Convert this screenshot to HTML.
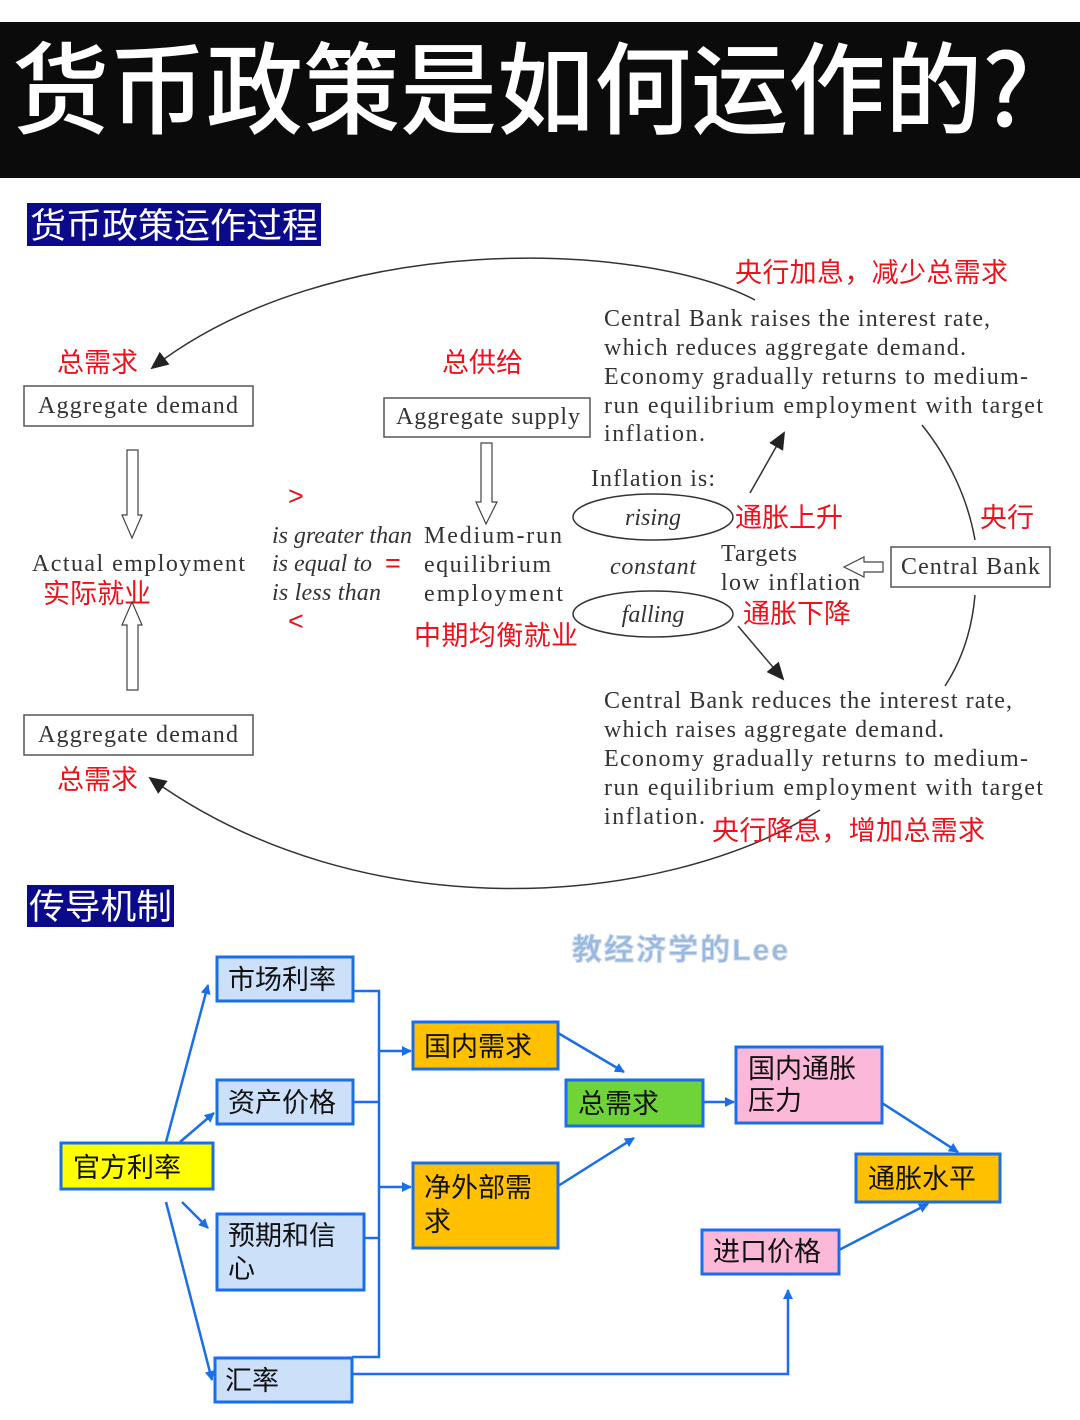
<!DOCTYPE html>
<html><head><meta charset="utf-8"><style>
html,body{margin:0;padding:0;background:#fff;}
svg{display:block;}
.s{font-family:"Liberation Serif","Noto Serif CJK SC",serif;fill:#333;font-size:24px;}
.i{font-style:italic;}
.r{font-family:"Liberation Sans","Noto Sans CJK SC",sans-serif;fill:#e8141c;font-size:27px;}
.c{font-family:"Liberation Sans","Noto Sans CJK SC",sans-serif;fill:#111;font-size:27px;}
.bx{stroke:#1a6fe6;stroke-width:3;}
.ln{stroke:#1a6fe6;stroke-width:2.5;fill:none;}
</style></head><body>
<svg width="1080" height="1420" viewBox="0 0 1080 1420" xmlns="http://www.w3.org/2000/svg">
<defs>
<marker id="ab" markerWidth="10" markerHeight="10" refX="9" refY="5" orient="auto" markerUnits="userSpaceOnUse"><path d="M0,0 L10,5 L0,10 Z" fill="#1a6fe6"/></marker>
<marker id="ak" markerWidth="18" markerHeight="16" refX="16" refY="8" orient="auto" markerUnits="userSpaceOnUse"><path d="M0,0 L18,8 L0,16 Z" fill="#222"/></marker>
</defs>
<rect x="0" y="22" width="1080" height="156" fill="#0b0b0b"/>
<text x="12" y="126" font-family="'Noto Sans CJK SC',sans-serif" font-size="100" font-weight="500" fill="#fff" textLength="1018" lengthAdjust="spacingAndGlyphs">货币政策是如何运作的?</text>

<rect x="27" y="203" width="294" height="43" fill="#0a0a8a"/>
<text x="30" y="238" font-family="'Noto Sans CJK SC',sans-serif" font-size="35" fill="#fff" textLength="288" lengthAdjust="spacingAndGlyphs">货币政策运作过程</text>

<!-- arcs -->
<path d="M755,300 C640,240 330,230 152,368" fill="none" stroke="#333" stroke-width="1.5" marker-end="url(#ak)"/>
<path d="M820,810 C660,910 360,930 150,778" fill="none" stroke="#333" stroke-width="1.5" marker-end="url(#ak)"/>
<path d="M922,425 C950,460 968,500 975,540" fill="none" stroke="#333" stroke-width="1.5"/>
<path d="M975,595 C972,630 962,660 945,686" fill="none" stroke="#333" stroke-width="1.5"/>
<line x1="750" y1="493" x2="784" y2="433" stroke="#333" stroke-width="1.5" marker-end="url(#ak)"/>
<line x1="738" y1="626" x2="783" y2="679" stroke="#333" stroke-width="1.5" marker-end="url(#ak)"/>

<text class="r" x="735" y="282" textLength="273">央行加息，减少总需求</text>
<text class="r" x="57" y="372" textLength="81">总需求</text>
<text class="r" x="442" y="372" textLength="81">总供给</text>
<text class="r" x="980" y="527" textLength="54">央行</text>
<text class="r" x="735" y="527" textLength="108">通胀上升</text>
<text class="r" x="743" y="623" textLength="108">通胀下降</text>
<text class="r" x="43" y="603" textLength="108">实际就业</text>
<text class="r" x="414" y="645" textLength="164">中期均衡就业</text>
<text class="r" x="57" y="789" textLength="81">总需求</text>
<text class="r" x="712" y="840" textLength="273">央行降息，增加总需求</text>
<text class="r" x="288" y="505">&gt;</text>
<text class="r" x="385" y="572">=</text>
<text class="r" x="288" y="630">&lt;</text>

<rect x="24" y="386" width="229" height="40" fill="none" stroke="#555" stroke-width="1.5"/>
<text class="s" x="38" y="413" textLength="200">Aggregate demand</text>
<rect x="24" y="715" width="229" height="40" fill="none" stroke="#555" stroke-width="1.5"/>
<text class="s" x="38" y="742" textLength="200">Aggregate demand</text>
<rect x="384" y="398" width="206" height="39" fill="none" stroke="#555" stroke-width="1.5"/>
<text class="s" x="396" y="424" textLength="184">Aggregate supply</text>
<rect x="891" y="547" width="159" height="40" fill="none" stroke="#555" stroke-width="1.5"/>
<text class="s" x="901" y="574" textLength="139">Central Bank</text>

<!-- hollow arrows -->
<path d="M127,450 H138 V515 H142 L132,538 L122,515 H127 Z" fill="#fff" stroke="#444" stroke-width="1.2"/>
<path d="M127,690 H138 V625 H142 L132,602 L122,625 H127 Z" fill="#fff" stroke="#444" stroke-width="1.2"/>
<path d="M481,443 H492 V502 H497 L486,524 L476,502 H481 Z" fill="#fff" stroke="#444" stroke-width="1.2"/>
<path d="M883,562 V572 H864 V577 L844,567 L864,557 V562 Z" fill="#fff" stroke="#444" stroke-width="1.2"/>

<text class="s" x="32" y="571" textLength="213">Actual employment</text>
<text class="s i" x="272" y="543" textLength="140">is greater than</text>
<text class="s i" x="272" y="571" textLength="100">is equal to</text>
<text class="s i" x="272" y="600" textLength="109">is less than</text>
<text class="s" x="424" y="543" textLength="138">Medium-run</text>
<text class="s" x="424" y="572" textLength="127">equilibrium</text>
<text class="s" x="424" y="601" textLength="139">employment</text>
<text class="s" x="591" y="486" textLength="124">Inflation is:</text>
<ellipse cx="653" cy="517" rx="80" ry="23" fill="none" stroke="#333" stroke-width="1.5"/>
<text class="s i" x="653" y="525" text-anchor="middle">rising</text>
<text class="s i" x="653" y="574" text-anchor="middle" textLength="86">constant</text>
<ellipse cx="653" cy="614" rx="80" ry="23" fill="none" stroke="#333" stroke-width="1.5"/>
<text class="s i" x="653" y="622" text-anchor="middle">falling</text>
<text class="s" x="721" y="561" textLength="76">Targets</text>
<text class="s" x="721" y="590" textLength="139">low inflation</text>

<text class="s" x="604" y="326" textLength="386">Central Bank raises the interest rate,</text>
<text class="s" x="604" y="355" textLength="362">which reduces aggregate demand.</text>
<text class="s" x="604" y="384" textLength="424">Economy gradually returns to medium-</text>
<text class="s" x="604" y="413" textLength="439">run equilibrium employment with target</text>
<text class="s" x="604" y="441" textLength="101">inflation.</text>
<text class="s" x="604" y="708" textLength="408">Central Bank reduces the interest rate,</text>
<text class="s" x="604" y="737" textLength="340">which raises aggregate demand.</text>
<text class="s" x="604" y="766" textLength="424">Economy gradually returns to medium-</text>
<text class="s" x="604" y="795" textLength="439">run equilibrium employment with target</text>
<text class="s" x="604" y="824" textLength="101">inflation.</text>

<!-- section 2 -->
<rect x="27" y="885" width="147" height="42" fill="#0a0a8a"/>
<text x="29" y="919" font-family="'Noto Sans CJK SC',sans-serif" font-size="35" fill="#fff" textLength="143" lengthAdjust="spacingAndGlyphs">传导机制</text>
<text x="572" y="960" font-family="'Liberation Sans','Noto Sans CJK SC',sans-serif" font-size="30" font-weight="bold" fill="#9ab8dc" stroke="#c8d8ee" stroke-width="1" textLength="216">教经济学的Lee</text>

<rect class="bx" x="61" y="1143" width="152" height="46" fill="#ffff00"/>
<text class="c" x="73" y="1177">官方利率</text>
<rect class="bx" x="217" y="957" width="136" height="44" fill="#cce0fa"/>
<text class="c" x="228" y="989">市场利率</text>
<rect class="bx" x="217" y="1080" width="136" height="44" fill="#cce0fa"/>
<text class="c" x="228" y="1112">资产价格</text>
<rect class="bx" x="217" y="1214" width="147" height="76" fill="#cce0fa"/>
<text class="c" x="228" y="1245">预期和信</text>
<text class="c" x="228" y="1278">心</text>
<rect class="bx" x="215" y="1358" width="137" height="44" fill="#cce0fa"/>
<text class="c" x="225" y="1390">汇率</text>
<rect class="bx" x="413" y="1022" width="145" height="47" fill="#ffc000"/>
<text class="c" x="424" y="1056">国内需求</text>
<rect class="bx" x="413" y="1163" width="145" height="85" fill="#ffc000"/>
<text class="c" x="424" y="1197">净外部需</text>
<text class="c" x="424" y="1231">求</text>
<rect class="bx" x="566" y="1080" width="137" height="46" fill="#6fd33a"/>
<text class="c" x="578" y="1113">总需求</text>
<rect class="bx" x="736" y="1047" width="146" height="76" fill="#fcb8d8"/>
<text class="c" x="748" y="1078">国内通胀</text>
<text class="c" x="748" y="1110">压力</text>
<rect class="bx" x="856" y="1154" width="144" height="48" fill="#ffc000"/>
<text class="c" x="868" y="1188">通胀水平</text>
<rect class="bx" x="702" y="1230" width="137" height="44" fill="#fcb8d8"/>
<text class="c" x="713" y="1261">进口价格</text>

<!-- connectors -->
<line class="ln" x1="166" y1="1142" x2="208" y2="985" marker-end="url(#ab)"/>
<line class="ln" x1="180" y1="1142" x2="214" y2="1113" marker-end="url(#ab)"/>
<line class="ln" x1="182" y1="1202" x2="208" y2="1228" marker-end="url(#ab)"/>
<line class="ln" x1="166" y1="1202" x2="212" y2="1380" marker-end="url(#ab)"/>
<path class="ln" d="M353,991 H379 V1357 H352"/>
<line class="ln" x1="353" y1="1102" x2="379" y2="1102"/>
<line class="ln" x1="364" y1="1238" x2="379" y2="1238"/>
<line class="ln" x1="379" y1="1051" x2="411" y2="1051" marker-end="url(#ab)"/>
<line class="ln" x1="379" y1="1187" x2="411" y2="1187" marker-end="url(#ab)"/>
<line class="ln" x1="558" y1="1033" x2="624" y2="1072" marker-end="url(#ab)"/>
<line class="ln" x1="558" y1="1186" x2="634" y2="1138" marker-end="url(#ab)"/>
<line class="ln" x1="703" y1="1102" x2="734" y2="1102" marker-end="url(#ab)"/>
<line class="ln" x1="882" y1="1103" x2="958" y2="1152" marker-end="url(#ab)"/>
<line class="ln" x1="839" y1="1250" x2="928" y2="1204" marker-end="url(#ab)"/>
<path class="ln" d="M352,1374 H788 V1290" marker-end="url(#ab)"/>
</svg>
</body></html>
